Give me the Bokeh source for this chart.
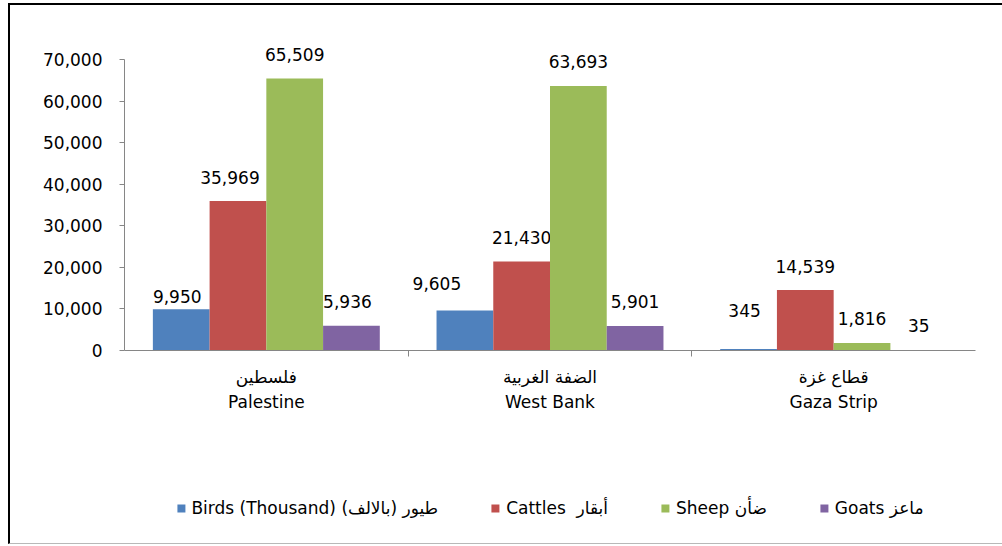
from bokeh.plotting import figure
from bokeh.layouts import column
from bokeh.models import (ColumnDataSource, FactorRange, Range1d,
                          CategoricalAxis, FixedTicker, NumeralTickFormatter,
                          Legend, LegendItem)
from bokeh.transform import dodge
from bokeh.core.properties import value
from bokeh.embed import file_html
from bokeh.resources import INLINE

# ---------------- data ----------------
regions_en = ["Palestine", "West Bank", "Gaza Strip"]
regions_ar = ["فلسطين", "الضفة الغربية", "قطاع غزة"]
series_names = ["Birds (Thousand) طيور (بالالف)", "Cattles  أبقار", "Sheep ضأن", "Goats ماعز"]
birds = [9950, 9605, 345]
cattles = [35969, 21430, 14539]
sheep = [65509, 63693, 1816]
goats = [5936, 5901, 35]
y_ticks = [0, 10000, 20000, 30000, 40000, 50000, 60000, 70000]
y_axis_max = 70000

# ---------------- styling ----------------
colors = ["#4F81BD", "#C0504D", "#9BBB59", "#8064A2"]
offsets = [-0.3, -0.1, 0.1, 0.3]
# per-label nudges in screen pixels (manual label placement of the original)
label_dx = [[-4, -28, -4], [-8, 0, 0], [0, 0, 0], [-4, 0, 0]]
label_dy = [[-13, -27, -39], [-24, -24, -24], [-24, -24, -24], [-24, -24, -25]]
FONT = "DejaVu Sans"
AXIS_GRAY = "#868686"

p = figure(x_range=FactorRange(factors=regions_en, range_padding=0, factor_padding=0),
           y_range=Range1d(0, 78000),
           width=994, height=437, output_backend="svg", toolbar_location=None,
           x_axis_location=None,
           min_border_left=114, min_border_right=29, min_border_top=21,
           min_border_bottom=92,
           background_fill_color="white", border_fill_color="white",
           outline_line_color=None)

p.xgrid.visible = False
p.ygrid.visible = False

yax = p.yaxis[0]
yax.ticker = FixedTicker(ticks=y_ticks)
yax.bounds = (0, y_axis_max)
yax.formatter = NumeralTickFormatter(format="0,0")
yax.major_tick_out = 5
yax.major_tick_in = 0
yax.minor_tick_line_color = None
yax.axis_line_color = AXIS_GRAY
yax.major_tick_line_color = AXIS_GRAY
yax.major_label_text_font = FONT
yax.major_label_text_font_size = "17px"
yax.major_label_text_color = "black"
yax.major_label_standoff = 17

# boundary ticks axis: factor centres sit on the category boundaries
bounds = ["b0", "b1", "b2", "b3"]
p.extra_x_ranges = {
    "bounds": FactorRange(factors=bounds, range_padding=-0.25, factor_padding=0),
    "arabic": FactorRange(factors=regions_ar, range_padding=0, factor_padding=0),
}
bax = CategoricalAxis(x_range_name="bounds",
                      major_label_overrides={b: "" for b in bounds},
                      major_tick_out=6, major_tick_in=0, minor_tick_line_color=None,
                      axis_line_color=AXIS_GRAY, major_tick_line_color=AXIS_GRAY,
                      major_label_text_font_size="1px", major_label_standoff=0,
                      major_label_text_alpha=0)
p.add_layout(bax, "below")

ax_ar = CategoricalAxis(
    x_range_name="arabic",
    axis_line_color=None, major_tick_line_color=None, minor_tick_line_color=None,
    major_label_text_font=FONT, major_label_text_font_size="17px",
    major_label_text_color="black", major_label_standoff=4)
p.add_layout(ax_ar, "below")

ax_en = CategoricalAxis(
    axis_line_color=None, major_tick_line_color=None, minor_tick_line_color=None,
    major_label_text_font=FONT, major_label_text_font_size="17px",
    major_label_text_color="black", major_label_standoff=-4)
p.add_layout(ax_en, "below")

series = [birds, cattles, sheep, goats]
for i, vals in enumerate(series):
    src = ColumnDataSource(dict(x=regions_en, top=vals,
                                label=[f"{v:,}" for v in vals],
                                dx=label_dx[i], dy=label_dy[i]))
    p.vbar(x=dodge("x", offsets[i], range=p.x_range), top="top", width=0.2,
           fill_color=colors[i], line_color=None, source=src)
    p.text(x=dodge("x", offsets[i], range=p.x_range), y="top", text="label",
           x_offset="dx", y_offset="dy", text_align="center", text_baseline="middle",
           text_font=value(FONT), text_font_size="17px", text_color="black", source=src)

# legend strip below the chart (zero-height placeholder bars only carry the swatch style)
lp = figure(width=994, height=101, output_backend="svg", toolbar_location=None,
            x_range=Range1d(0, 1), y_range=Range1d(0, 1),
            x_axis_location=None, y_axis_location=None,
            min_border_left=90, min_border_right=0, min_border_top=31,
            min_border_bottom=0,
            background_fill_color="white", border_fill_color="white",
            outline_line_color=None)
lp.xgrid.visible = False
lp.ygrid.visible = False
items = []
for i in range(len(series)):
    r = lp.vbar(x=[0], top=[0], bottom=[0], width=0, fill_color=colors[i], line_color=None)
    items.append(LegendItem(label=series_names[i], renderers=[r]))
legend = Legend(items=items, orientation="horizontal", location="center",
                glyph_width=10, glyph_height=10, label_standoff=6, spacing=52,
                padding=0, margin=0, border_line_color=None,
                background_fill_alpha=0, label_text_font=FONT,
                label_text_font_size="17px", label_text_color="black")
lp.add_layout(legend)

layout = column(p, lp, spacing=0,
                styles={"border-left": "2px solid black", "border-top": "2px solid black",
                        "border-bottom": "1px solid #b8b8b8",
                        "margin-left": "8px", "margin-top": "3px"})

open("out.html", "w").write(file_html(layout, INLINE))
